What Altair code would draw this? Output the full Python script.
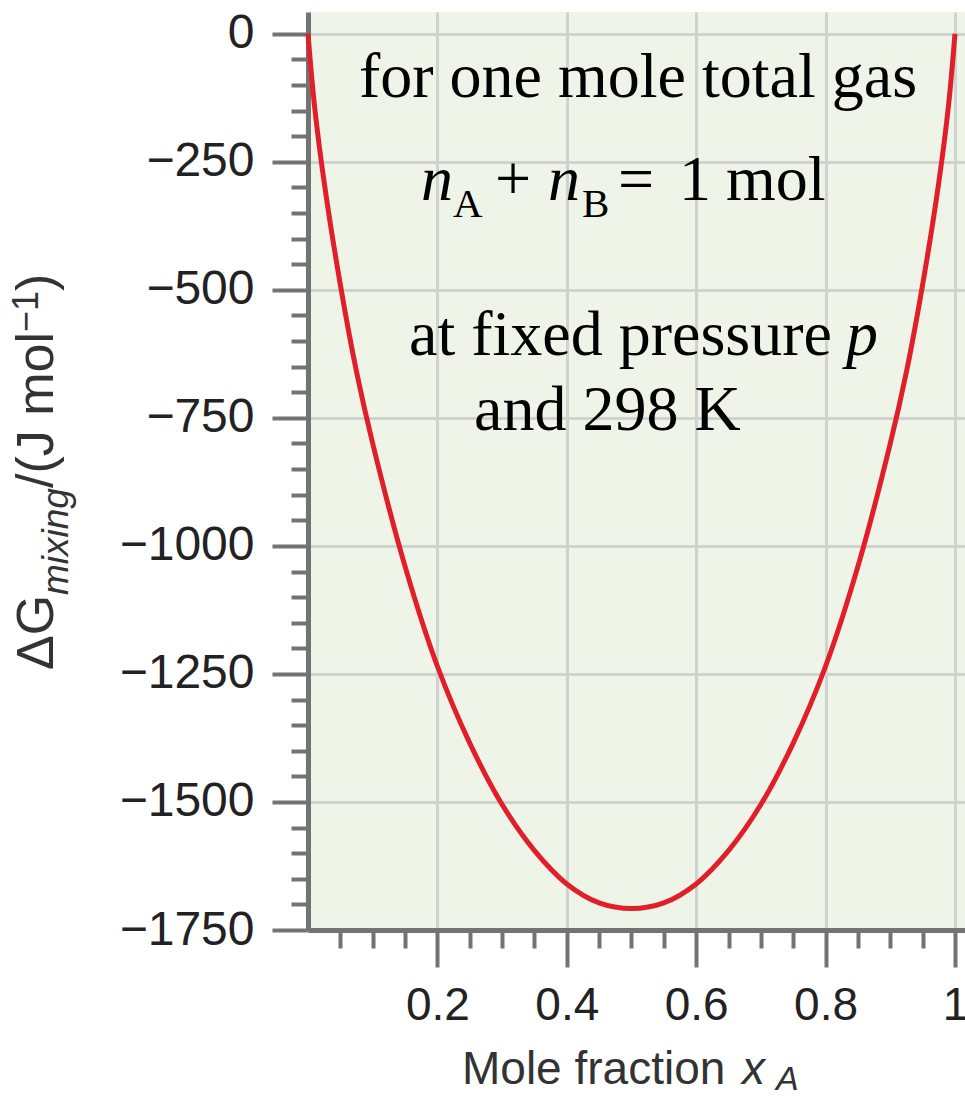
import altair as alt
import pandas as pd

# Mole fraction of A and Gibbs energy of mixing (J/mol)
x_frac = [0.0, 0.01, 0.025, 0.05, 0.075, 0.1, 0.15, 0.2, 0.25, 0.3, 0.35, 0.4, 0.45, 0.5,
          0.55, 0.6, 0.65, 0.7, 0.75, 0.8, 0.85, 0.9, 0.925, 0.95, 0.975, 0.99, 1.0]
dg_mix = [0, -140, -290, -490, -660, -800, -1040, -1235, -1385, -1505, -1595, -1660, -1697, -1708,
          -1697, -1660, -1595, -1505, -1385, -1235, -1040, -800, -660, -490, -290, -140, 0]

x_major = [0.2, 0.4, 0.6, 0.8, 1.0]
x_minor = [0.05, 0.1, 0.15, 0.25, 0.3, 0.35, 0.45, 0.5, 0.55, 0.65, 0.7, 0.75, 0.85, 0.9, 0.95]
y_major = [0, -250, -500, -750, -1000, -1250, -1500, -1750]
y_minor = [v for v in range(0, -1751, -50) if v % 250 != 0]

df = pd.DataFrame({"x": x_frac, "g": dg_mix})

AX = "#737373"
GRID = "#cfd3cd"
BG = "#eef5e8"
SANS = "Liberation Sans"
SERIF = "Liberation Serif"

xs = alt.Scale(domain=[0, 1.0155], nice=False, zero=False)
ys = alt.Scale(domain=[-1750, 42.5], nice=False, zero=False)

major_x = alt.Axis(values=x_major, labelExpr="datum.value == 1 ? '1' : format(datum.value, '.1f')",
                   tickSize=37, tickWidth=4, tickColor=AX, domainColor=AX, domainWidth=5,
                   labelFont=SANS, labelFontSize=46, labelColor="#222222", labelPadding=16,
                   labelFlush=False, labelOverlap=False, grid=True, gridColor=GRID, gridWidth=3,
                   title=None, orient="bottom")
major_y = alt.Axis(values=y_major, format="d", tickSize=36, tickWidth=4, tickColor=AX,
                   domainColor=AX, domainWidth=5, labelFont=SANS, labelFontSize=48,
                   labelColor="#222222", labelPadding=18, labelOverlap=False, grid=True,
                   gridColor=GRID, gridWidth=3, title=None, orient="left")
minor_x = alt.Axis(values=x_minor, labels=False, tickSize=18, tickWidth=4, tickColor=AX,
                   domain=False, grid=False, title=None, orient="bottom")
minor_y = alt.Axis(values=y_minor, labels=False, tickSize=17, tickWidth=4, tickColor=AX,
                   domain=False, grid=False, title=None, orient="left")

minor = alt.Chart(df).mark_point(opacity=0).encode(
    x=alt.X("x:Q", scale=xs, axis=minor_x),
    y=alt.Y("g:Q", scale=ys, axis=minor_y),
)
curve = alt.Chart(df).mark_line(color="#e11f2b", strokeWidth=5, interpolate="catmull-rom").encode(
    x=alt.X("x:Q", scale=xs, axis=major_x),
    y=alt.Y("g:Q", scale=ys, axis=major_y),
)

OX, OY = 308, 12  # plot origin inside the page


def txt(s, x, y, size, font=SERIF, style="normal", align="left", angle=0, color="#000000"):
    return alt.Chart(pd.DataFrame({"t": [s]})).mark_text(
        font=font, fontSize=size, fontStyle=style, align=align, baseline="alphabetic",
        angle=angle, color=color,
    ).encode(text="t:N", x=alt.value(x - OX), y=alt.value(y - OY))


notes = [
    txt("for one mole total gas", 638, 97, 64, align="center"),
    txt("n", 421, 200, 64, style="italic"),
    txt("A", 453, 217, 41),
    txt("+", 495, 200, 64),
    txt("n", 548, 200, 64, style="italic"),
    txt("B", 582, 217, 41),
    txt("=", 618, 200, 64),
    txt("1", 679, 200, 64),
    txt("mol", 726, 200, 64),
    txt("at fixed pressure", 409, 355, 64),
    txt("p", 846, 355, 64, style="italic"),
    txt("and 298 K", 474, 430, 64),
    # x-axis title
    txt("Mole fraction", 462, 1084, 46, font=SANS, color="#333333"),
    txt("x", 742, 1084, 46, font=SANS, style="italic", color="#333333"),
    txt("A", 776, 1090, 34, font=SANS, style="italic", color="#333333"),
    # y-axis title (rotated)
    txt("\u0394G", 53, 670, 52, font=SANS, angle=270, color="#333333"),
    txt("mixing", 68, 595, 37, font=SANS, style="italic", angle=270, color="#333333"),
    txt("/(J mol", 53, 488, 52, font=SANS, angle=270, color="#333333"),
    txt("\u22121", 38, 332, 36, font=SANS, angle=270, color="#333333"),
    txt(")", 53, 291, 52, font=SANS, angle=270, color="#333333"),
]

chart = alt.layer(minor, curve, *notes).resolve_scale(x="independent", y="independent").properties(
    width=965 - OX, height=930 - OY,
    padding={"left": OX, "top": OY, "right": 0, "bottom": 1099 - 930},
    autosize=alt.AutoSizeParams(type="none"),
    background="#ffffff",
).configure_view(fill=BG, stroke=None)

chart.save("out.html", embed_options={"renderer": "svg", "actions": False})
